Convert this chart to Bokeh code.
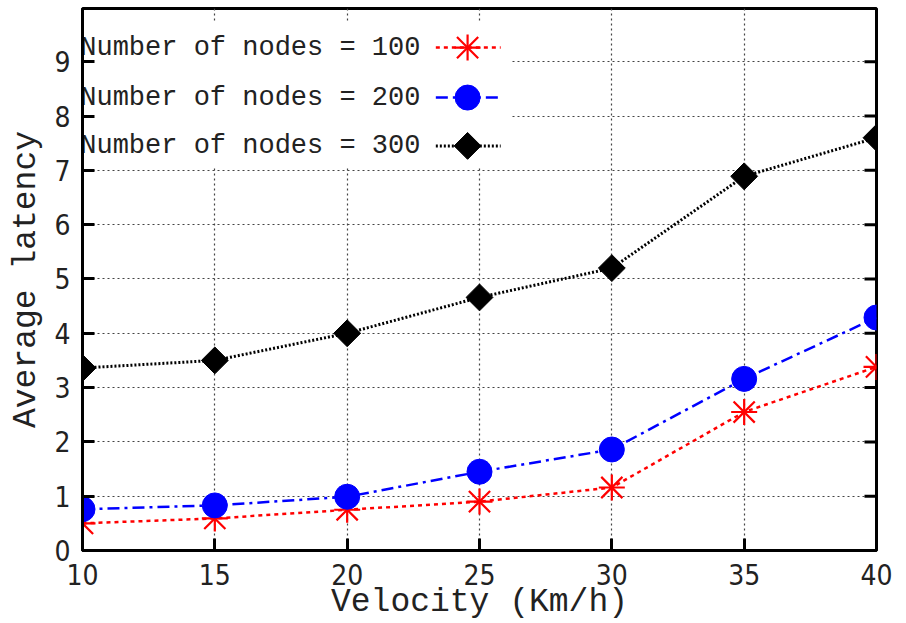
import math

from bokeh.plotting import figure
from bokeh.models import Range1d, FixedTicker
from bokeh.core.properties import value
from bokeh.embed import file_html
from bokeh.resources import INLINE

# Average latency versus velocity for three network sizes
velocity = [10, 15, 20, 25, 30, 35, 40]
latency_100 = [0.50, 0.59, 0.75, 0.90, 1.16, 2.55, 3.38]
latency_200 = [0.76, 0.83, 0.99, 1.45, 1.86, 3.16, 4.29]
latency_300 = [3.36, 3.50, 4.00, 4.66, 5.20, 6.89, 7.60]
series_labels = ["Number of nodes = 100", "Number of nodes = 200", "Number of nodes = 300"]
x_ticks = [10, 15, 20, 25, 30, 35, 40]
y_ticks = [0, 1, 2, 3, 4, 5, 6, 7, 8, 9]
x_title = "Velocity (Km/h)"
y_title = "Average latency"

MONO = "Liberation Mono"
NARROW = "Liberation Sans Narrow, DejaVu Sans Condensed, sans-serif"

p = figure(width=906, height=623, output_backend="svg", toolbar_location=None,
           x_range=Range1d(10, 40), y_range=Range1d(0, 9.98),
           min_border_left=82, min_border_right=30, min_border_top=8, min_border_bottom=72)

p.outline_line_color = "black"
p.outline_line_width = 3
p.background_fill_color = "white"
p.border_fill_color = "white"

# grid
for g in (p.xgrid, p.ygrid):
    g.grid_line_color = "#444444"
    g.grid_line_width = 1.2
    g.grid_line_dash = "2 3"
p.xgrid.ticker = FixedTicker(ticks=x_ticks[1:-1])
p.ygrid.ticker = FixedTicker(ticks=y_ticks[1:])


def style_axis(ax, ticks):
    ax.ticker = FixedTicker(ticks=ticks)
    ax.axis_line_color = "black"
    ax.axis_line_width = 3
    ax.major_tick_line_width = 3
    ax.major_tick_in = 12
    ax.major_tick_out = 0
    ax.minor_tick_line_color = None
    ax.major_label_text_font = NARROW
    ax.major_label_text_font_size = "28px"
    ax.major_label_text_color = "#222222"
    ax.axis_label_text_font = MONO
    ax.axis_label_text_font_size = "33px"
    ax.axis_label_text_font_style = "normal"
    ax.axis_label_text_color = "#222222"


style_axis(p.xaxis[0], x_ticks)
style_axis(p.yaxis[0], y_ticks)
p.xaxis[0].axis_label = x_title
p.yaxis[0].axis_label = y_title
p.xaxis[0].major_label_standoff = 13
p.xaxis[0].axis_label_standoff = -4
p.yaxis[0].major_label_standoff = 12
p.yaxis[0].axis_label_standoff = 6

# inward tick marks on the right border (mirrored y ticks)
p.ray(x=[40] * len(y_ticks), y=y_ticks, length=12, length_units="screen",
      angle=math.pi, line_color="black", line_width=3)

# key box blanks the grid behind the key entries
p.quad(left=[10], right=[26.2], bottom=[7.05], top=[9.75],
       fill_color="white", line_color=None)

# data series
p.line(velocity, latency_100, line_color="red", line_width=2.5, line_dash="4 4")
p.scatter(velocity, latency_100, marker="cross", size=26, line_color="red", line_width=2.2)
p.scatter(velocity, latency_100, marker="x", size=30, line_color="red", line_width=2.2)

p.line(velocity, latency_200, line_color="blue", line_width=2.5, line_dash="12 5 3 5")
p.scatter(velocity, latency_200, marker="circle", size=25, fill_color="blue", line_color="blue")

p.line(velocity, latency_300, line_color="black", line_width=3, line_dash="2 2")
p.scatter(velocity, latency_300, marker="square", size=19, angle=math.pi / 4,
          fill_color="black", line_color="black")

# key: label on the left, line sample with marker on the right
key_y = [9.26, 8.34, 7.45]
key_text_x = 22.77
key_line = (23.35, 25.8)
key_mark_x = 24.55
p.text(x=[key_text_x] * 3, y=key_y, text=series_labels, text_align="right",
       text_baseline="middle", text_font=value(MONO), text_font_size="27px",
       text_color="#222222")
p.line([key_line[0], key_line[1]], [key_y[0]] * 2, line_color="red", line_width=2.5, line_dash="4 4")
p.scatter([key_mark_x], [key_y[0]], marker="cross", size=26, line_color="red", line_width=2.2)
p.scatter([key_mark_x], [key_y[0]], marker="x", size=30, line_color="red", line_width=2.2)
p.line([key_line[0], key_line[1]], [key_y[1]] * 2, line_color="blue", line_width=2.5, line_dash="12 5 3 5")
p.scatter([key_mark_x], [key_y[1]], marker="circle", size=25, fill_color="blue", line_color="blue")
p.line([key_line[0], key_line[1]], [key_y[2]] * 2, line_color="black", line_width=3, line_dash="2 2")
p.scatter([key_mark_x], [key_y[2]], marker="square", size=19, angle=math.pi / 4,
          fill_color="black", line_color="black")

open("out.html", "w").write(file_html(p, INLINE))
